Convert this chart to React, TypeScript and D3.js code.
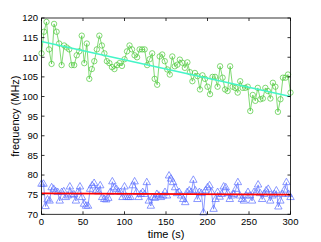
import React from "react";
import * as d3 from "d3";

const W = 321;
const H = 242;

const xTicks = [0, 50, 100, 150, 200, 250, 300];
const yTicks = [70, 75, 80, 85, 90, 95, 100, 105, 110, 115, 120];
const xLabel = "time (s)";
const yLabel = "frequency (MHz)";

const greenValues = [
  111, 116.5, 119, 112, 108.3, 118.5, 116.5, 113.5, 108, 113,
  112.5, 112, 108, 108, 110.5, 111.5, 115.5, 108.5, 113.5, 104.5,
  107, 109, 112, 115.5, 113, 111, 109, 108.5, 107.5, 107,
  108, 108.5, 107.8, 109.5, 111.5, 113, 112, 110.5, 110, 112,
  112, 112, 108, 109.5, 111, 104.5, 103,
  110.2, 110.7, 109.0, 106.9, 105.6, 110.2, 107.7, 108.1, 109.4, 108.6,
  107.3, 108.7, 106.2, 103.9, 106.0, 105.2, 101.8, 105.4, 104.5, 102.5,
  100.6, 105.0, 105.0, 102.5, 107.7, 104.8, 101.8, 101.4, 107.7, 102.5,
  102.2, 101.0, 103.9, 102.2, 102.2, 102.5, 96.3, 100.4, 98.9, 102.2,
  99.3, 99.5, 102.2, 101.4, 99.5, 103.5, 102.5, 96.1, 99.3, 104.8,
  104.8, 105.6, 101.0,
];

const blueValues = [
  77.7, 77.7, 72.0, 73.7, 73.4, 76.8, 76.4, 75.8, 75.6, 73.4,
  75.6, 75.8, 74.3, 74.7, 77.0, 75.0, 75.0, 73.4, 75.6, 77.0,
  74.3, 72.6, 72.1, 72.1, 76.4, 77.3, 77.9, 76.0, 75.7, 77.3,
  74.3, 73.8, 73.7, 74.1, 75.6, 78.3, 76.8, 76.4, 75.7, 75.6,
  74.3, 77.0, 74.4, 74.3, 74.3, 77.3, 78.3, 75.6, 74.3, 75.1,
  75.6, 75.1, 78.1, 73.4, 72.1, 74.3, 74.1, 75.1, 74.7, 74.3,
  74.7, 75.6, 74.7, 79.8, 79.0, 78.1, 76.8, 75.3, 75.6, 74.7,
  73.8, 73.0, 75.6, 76.0, 75.6, 78.7, 76.0, 73.8, 75.6, 75.3,
  70.4, 76.0, 76.8, 77.3, 75.6, 71.3, 73.8, 75.6, 74.4, 75.1,
  77.0, 76.8, 75.3, 73.8, 74.7, 75.1, 76.4, 78.1, 74.7, 73.8,
  73.4, 74.7, 75.6, 74.7, 73.4, 75.6, 75.6, 77.5, 75.3, 73.8,
  75.1, 76.0, 76.4, 73.4, 74.7, 75.1, 76.0, 71.9, 73.4, 75.1,
  76.2, 78.1, 75.1, 74.3,
];

// fitted trend lines: [start, end] values at t = 0 and t = 300
const greenFit = [114, 100];
const redFit = [75.35, 75.0];

const T_END = 300;

const C_GREEN = "#4cc83a";
const C_CYAN = "#44f5c8";
const C_BLUE = "#5a6eff";
const C_RED = "#ff0000";

export default function App() {
  const left = 41.5, right = 290.5, top = 18, bottom = 214.3;
  const x = d3.scaleLinear().domain([0, 300]).range([left, right]);
  const y = d3.scaleLinear().domain([70, 120]).range([bottom, top]);

  const toPts = (vals: number[]) =>
    vals.map((v, i) => [(i * T_END) / (vals.length - 1), v] as [number, number]);
  const gPts = toPts(greenValues);
  const bPts = toPts(blueValues);

  const line = d3
    .line<[number, number]>()
    .x((d) => x(d[0]))
    .y((d) => y(d[1]));

  const tri = d3.symbol(d3.symbolTriangle, 24)();
  const font = "'Liberation Sans', Arial, Helvetica, sans-serif";
  const tl = 3;

  return (
    <svg
      width={W}
      height={H}
      style={{ position: "absolute", left: 0, top: 0, background: "#fff" }}
      fontFamily={font}
    >
      <rect x={0} y={0} width={W} height={H} fill="#fff" />
      <path d={line(gPts) || ""} fill="none" stroke={C_GREEN} strokeWidth={0.7} />
      {gPts.map((p, i) => (
        <circle
          key={"g" + i}
          cx={x(p[0])}
          cy={y(p[1])}
          r={2.7}
          fill="none"
          stroke={C_GREEN}
          strokeWidth={0.7}
        />
      ))}
      <path d={line(bPts) || ""} fill="none" stroke={C_BLUE} strokeWidth={0.7} />
      {bPts.map((p, i) => (
        <path
          key={"b" + i}
          d={tri || ""}
          transform={`translate(${x(p[0])},${y(p[1])})`}
          fill="none"
          stroke={C_BLUE}
          strokeWidth={0.7}
        />
      ))}
      <line
        x1={x(0)}
        x2={x(T_END)}
        y1={y(greenFit[0])}
        y2={y(greenFit[1])}
        stroke={C_CYAN}
        strokeWidth={1.6}
      />
      <line
        x1={x(0)}
        x2={x(T_END)}
        y1={y(redFit[0])}
        y2={y(redFit[1])}
        stroke={C_RED}
        strokeWidth={1.8}
      />
      <rect
        x={left}
        y={top}
        width={right - left}
        height={bottom - top}
        fill="none"
        stroke="#000"
        strokeWidth={0.8}
      />
      {xTicks.map((t) => (
        <g key={"xt" + t}>
          <line x1={x(t)} x2={x(t)} y1={bottom} y2={bottom - tl} stroke="#000" strokeWidth={0.8} />
          <line x1={x(t)} x2={x(t)} y1={top} y2={top + tl} stroke="#000" strokeWidth={0.8} />
          <text x={x(t)} y={bottom + 10.5} textAnchor="middle" fontSize={9.5} fill="#000">
            {t}
          </text>
        </g>
      ))}
      {yTicks.map((t) => (
        <g key={"yt" + t}>
          <line x1={left} x2={left + tl} y1={y(t)} y2={y(t)} stroke="#000" strokeWidth={0.8} />
          <line x1={right} x2={right - tl} y1={y(t)} y2={y(t)} stroke="#000" strokeWidth={0.8} />
          <text x={left - 3.5} y={y(t) + 3.4} textAnchor="end" fontSize={9.5} fill="#000">
            {t}
          </text>
        </g>
      ))}
      <text x={(left + right) / 2} y={237.5} textAnchor="middle" fontSize={11} fill="#000">
        {xLabel}
      </text>
      <text
        transform={`translate(19,${(top + bottom) / 2}) rotate(-90)`}
        textAnchor="middle"
        fontSize={11}
        fill="#000"
      >
        {yLabel}
      </text>
    </svg>
  );
}
